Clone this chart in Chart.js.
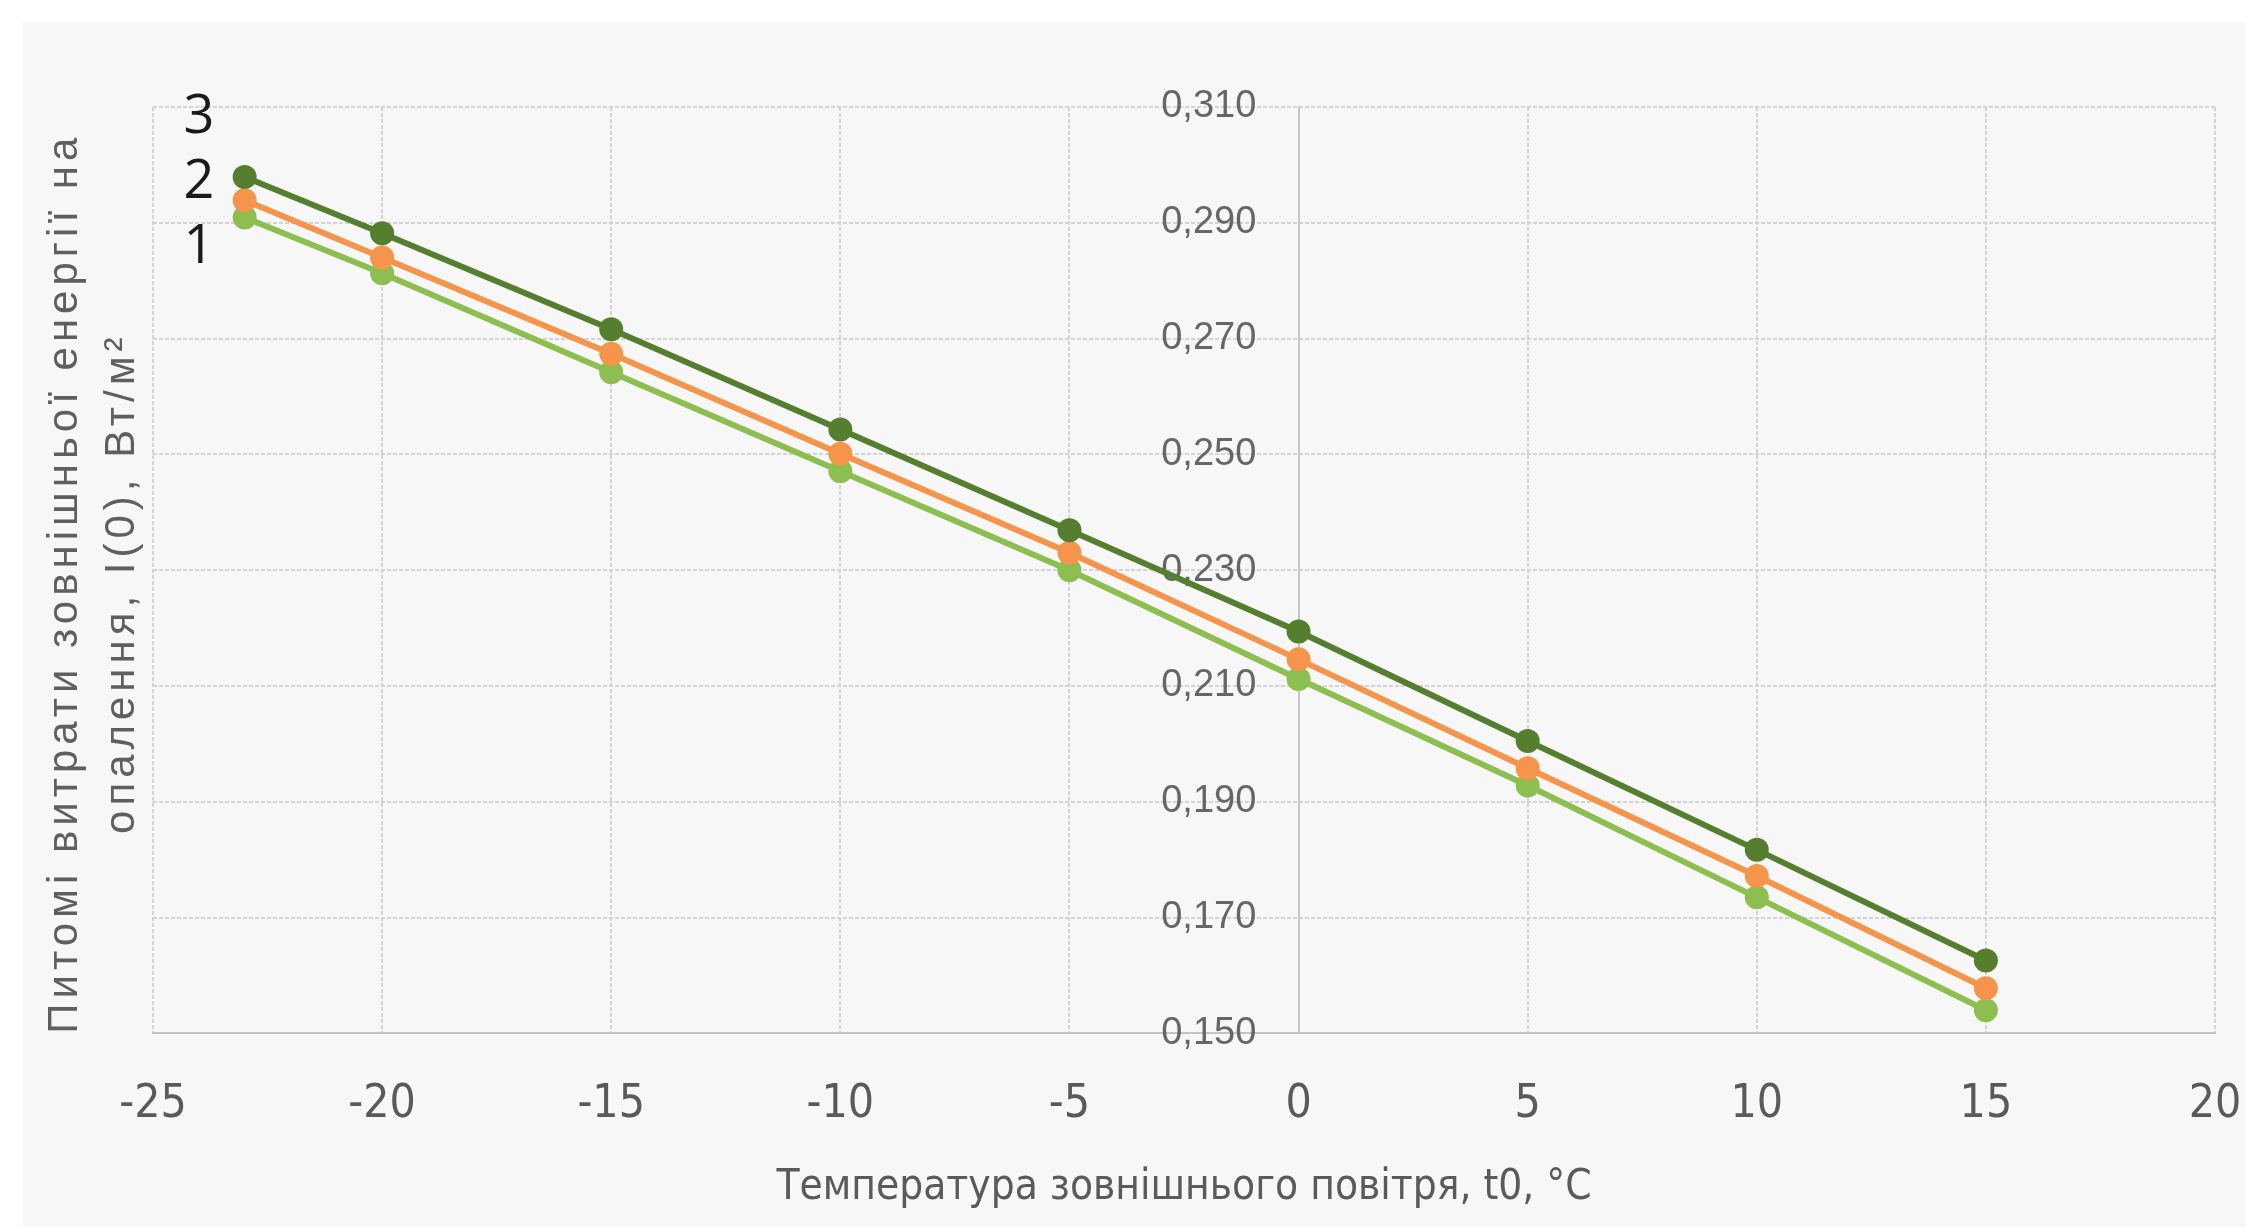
<!DOCTYPE html>
<html>
<head>
<meta charset="utf-8">
<script src="https://cdn.jsdelivr.net/npm/chart.js@4.4.1/dist/chart.umd.min.js"></script>
<style>
    body { margin: 0; background: #ffffff; width: 2246px; height: 1227px; overflow: hidden; }
    #heating-chartcontainer { position: absolute; left: 23px; top: 22px; width: 2223px; height: 1205px; background: #f7f7f7; }
</style>
</head>
<body>
<div id="heating-chartcontainer"><canvas id="heating-chartarea"></canvas></div>
<script>
// outdoor temperature, t0 (°C)
const temps = [-23, -20, -15, -10, -5, 0, 5, 10, 15];
// specific heating energy use, curves 1..3
const series1 = [0.2909, 0.2813, 0.2642, 0.2471, 0.2300, 0.2112, 0.1928, 0.1735, 0.1540];
const series2 = [0.2939, 0.2840, 0.2674, 0.2501, 0.2330, 0.2146, 0.1958, 0.1772, 0.1578];
const series3 = [0.2979, 0.2882, 0.2716, 0.2543, 0.2369, 0.2194, 0.2005, 0.1817, 0.1626];

const xTicks = [-25, -20, -15, -10, -5, 0, 5, 10, 15, 20];
const yTicks = [0.150, 0.170, 0.190, 0.210, 0.230, 0.250, 0.270, 0.290, 0.310];

// the "1", "2", "3" tags next to the first points
const seriesTags = ["1", "2", "3"];
const tagX = -24;
const tagY = [0.2858, 0.2970, 0.3081];

const yTitle = ["Питомі витрати зовнішньої енергії на", "опалення, I(0), Вт/м²"];
const xTitle = "Температура зовнішнього повітря, t0, °C";

const narrowFont = "'Liberation Sans Narrow', 'DejaVu Sans Condensed', 'Noto Sans'";

function toPoints(vals) {
    let ret = [];
    for (let i = 0; i < vals.length; i++) {
        ret.push({x: temps[i], y: vals[i]});
    }
    return ret;
}

function makeDataset(label, vals, color) {
    return {
        label: label,
        data: toPoints(vals),
        borderColor: color,
        backgroundColor: color,
        borderWidth: 6,
        pointRadius: 12,
        pointBorderWidth: 0,
        pointBackgroundColor: color,
        tension: 0
    };
}

const extraText = {
    id: "extraText",
    afterDraw(chart) {
        const ctx = chart.ctx;
        const area = chart.chartArea;
        const xs = chart.scales.x;
        const ys = chart.scales.y;

        ctx.save();
        ctx.fillStyle = "#1a1a1a";
        ctx.font = "54px 'Open Sans'";
        ctx.textAlign = "center";
        ctx.textBaseline = "middle";
        for (let i = 0; i < seriesTags.length; i++) {
            ctx.fillText(seriesTags[i], xs.getPixelForValue(tagX), ys.getPixelForValue(tagY[i]));
        }
        ctx.restore();

        ctx.save();
        ctx.fillStyle = "#5f5f5f";
        ctx.font = "42px 'Liberation Sans'";
        ctx.letterSpacing = "5px";
        ctx.textAlign = "center";
        ctx.textBaseline = "middle";
        ctx.translate(0, (area.top + area.bottom) / 2 + 13);
        ctx.rotate(-Math.PI / 2);
        ctx.fillText(yTitle[0], 0, 42);
        ctx.fillText(yTitle[1], 0, 99);
        ctx.restore();
    }
};

function makeChart() {
    const configuration = {
        type: "line",
        data: {
            datasets: [
                makeDataset("3", series3, "#557f2f"),
                makeDataset("2", series2, "#f5944b"),
                makeDataset("1", series1, "#8cbf50")
            ]
        },
        options: {
            responsive: true,
            maintainAspectRatio: false,
            animation: false,
            layout: {
                padding: {left: 130, right: 31, top: 85, bottom: 0}
            },
            plugins: {
                legend: {display: false},
                tooltip: {enabled: false}
            },
            scales: {
                x: {
                    type: "linear",
                    min: -25,
                    max: 20,
                    afterBuildTicks: function (scale) {
                        scale.ticks = xTicks.map(v => ({value: v}));
                    },
                    grid: {color: "#d3d3d3", lineWidth: 2, drawTicks: true, tickLength: 44, tickColor: "rgba(0,0,0,0)"},
                    border: {color: "#c4c4c4", width: 2, dash: [4, 2]},
                    ticks: {
                        padding: 0,
                        color: "#5a5a5a",
                        font: {family: narrowFont, size: 46},
                        callback: function (value) {
                            return String(value);
                        }
                    },
                    title: {
                        display: true,
                        text: xTitle,
                        color: "#5a5a5a",
                        font: {family: narrowFont, size: 42},
                        padding: {top: 30, bottom: 14}
                    }
                },
                y: {
                    type: "linear",
                    position: {x: 0},
                    min: 0.15,
                    max: 0.31,
                    afterBuildTicks: function (scale) {
                        scale.ticks = yTicks.map(v => ({value: v}));
                    },
                    grid: {color: "#d3d3d3", lineWidth: 2, drawTicks: false},
                    border: {color: "#c6c6c6", width: 2, dash: [4, 2]},
                    ticks: {
                        padding: 0,
                        color: "#666666",
                        font: {family: "'Liberation Sans'", size: 38},
                        callback: function (value) {
                            // trailing spaces keep the label clear of the axis line at x = 0
                            return value.toFixed(3).replace(".", ",") + "    ";
                        }
                    }
                }
            }
        },
        plugins: [extraText]
    };
    new Chart(document.getElementById("heating-chartarea"), configuration);
}

makeChart();
</script>
</body>
</html>
